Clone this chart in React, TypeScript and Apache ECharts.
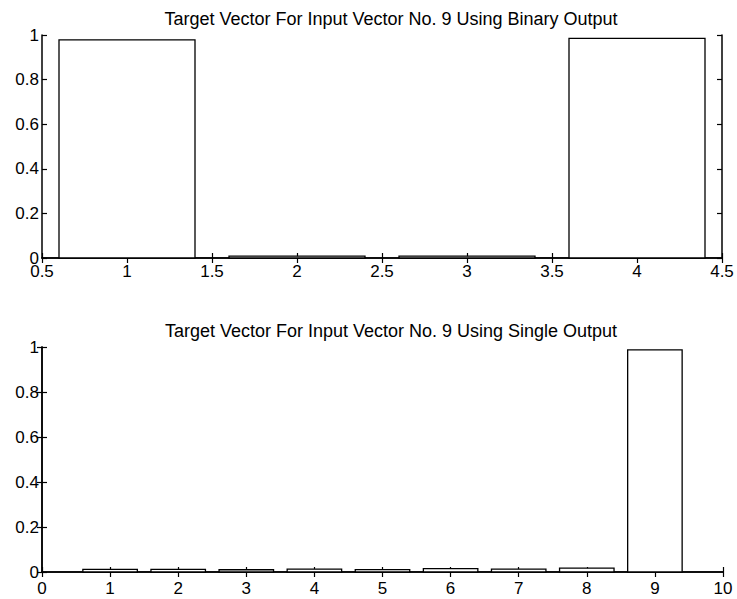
import React, { useEffect, useRef } from "react";
import * as echarts from "echarts";

// Binary-coded target vector (4 outputs)
const binaryPositions = [1, 2, 3, 4];
const binaryValues = [0.978, 0.008, 0.008, 0.985];

// Single-output target vector (9 outputs)
const singlePositions = [1, 2, 3, 4, 5, 6, 7, 8, 9];
const singleValues = [0.012, 0.012, 0.01, 0.013, 0.011, 0.015, 0.013, 0.017, 0.987];

const titles = [
  "Target Vector For Input Vector No. 9 Using Binary Output",
  "Target Vector For Input Vector No. 9 Using Single Output",
];

const yTicks = [0, 0.2, 0.4, 0.6, 0.8, 1];

const FONT = "'Liberation Sans', Arial, Helvetica, sans-serif";
const BAR_HALF = 0.4;

function barRender(params: any, api: any) {
  const x = api.value(0);
  const y = api.value(1);
  const p0 = api.coord([x - BAR_HALF, y]);
  const p1 = api.coord([x + BAR_HALF, 0]);
  return {
    type: "rect",
    shape: { x: p0[0], y: p0[1], width: p1[0] - p0[0], height: p1[1] - p0[1] },
    style: { fill: "#ffffff", stroke: "#000000", lineWidth: 1.3 },
  };
}

function fmtNum(v: number) {
  return String(Math.round(v * 10) / 10);
}

export default function App() {
  const ref = useRef<HTMLDivElement>(null);

  useEffect(() => {
    if (!ref.current) return;
    const chart = echarts.init(ref.current, undefined, { renderer: "svg" });

    const axisLine = { show: true, lineStyle: { color: "#000", width: 1.5 } };
    const tick = { show: true, inside: true, length: 5, lineStyle: { color: "#000", width: 1.2 } };
    const label = { color: "#000", fontSize: 17, fontFamily: FONT };

    const xMain = (grid: number, min: number, max: number, interval: number, margin: number) => ({
      type: "value",
      gridIndex: grid,
      position: "bottom",
      min,
      max,
      interval,
      splitLine: { show: false },
      axisLine,
      axisTick: tick,
      axisLabel: { ...label, margin, formatter: (v: number) => fmtNum(v), showMinLabel: true, showMaxLabel: true },
    });
    const xMirror = (grid: number, min: number, max: number, interval: number) => ({
      type: "value",
      gridIndex: grid,
      position: "top",
      min,
      max,
      interval,
      splitLine: { show: false },
      axisLine,
      axisTick: tick,
      axisLabel: { show: false },
    });
    const yMain = (grid: number) => ({
      type: "value",
      gridIndex: grid,
      position: "left",
      min: yTicks[0],
      max: yTicks[yTicks.length - 1],
      interval: 0.2,
      splitLine: { show: false },
      axisLine,
      axisTick: tick,
      axisLabel: { ...label, margin: 3, formatter: (v: number) => fmtNum(v) },
    });
    const yMirror = (grid: number) => ({
      type: "value",
      gridIndex: grid,
      position: "right",
      min: 0,
      max: 1,
      interval: 0.2,
      splitLine: { show: false },
      axisLine,
      axisTick: tick,
      axisLabel: { show: false },
    });

    const titleStyle = { fontSize: 18, fontWeight: "normal", color: "#000", fontFamily: FONT };

    chart.setOption({
      animation: false,
      backgroundColor: "#ffffff",
      title: [
        { text: titles[0], left: 386, top: 5, textAlign: "center", textStyle: titleStyle },
        { text: titles[1], left: 386, top: 317, textAlign: "center", textStyle: titleStyle },
      ],
      grid: [
        { left: 42, width: 680, top: 35, height: 223 },
        { left: 42, width: 681, top: 347, height: 225 },
      ],
      xAxis: [
        xMain(0, 0.5, 4.5, 0.5, 5),
        xMirror(0, 0.5, 4.5, 0.5),
        xMain(1, 0, 10, 1, 8),
        xMirror(1, 0, 10, 1),
      ],
      yAxis: [yMain(0), yMirror(0), yMain(1), yMirror(1)],
      series: [
        {
          type: "custom",
          xAxisIndex: 0,
          yAxisIndex: 0,
          renderItem: barRender,
          encode: { x: 0, y: 1 },
          data: binaryPositions.map((p, i) => [p, binaryValues[i]]),
        },
        {
          type: "custom",
          xAxisIndex: 2,
          yAxisIndex: 2,
          renderItem: barRender,
          encode: { x: 0, y: 1 },
          data: singlePositions.map((p, i) => [p, singleValues[i]]),
        },
      ],
    });

    return () => chart.dispose();
  }, []);

  return (
    <div
      ref={ref}
      style={{ position: "fixed", left: 0, top: 0, width: 737, height: 599, background: "#fff" }}
    />
  );
}
